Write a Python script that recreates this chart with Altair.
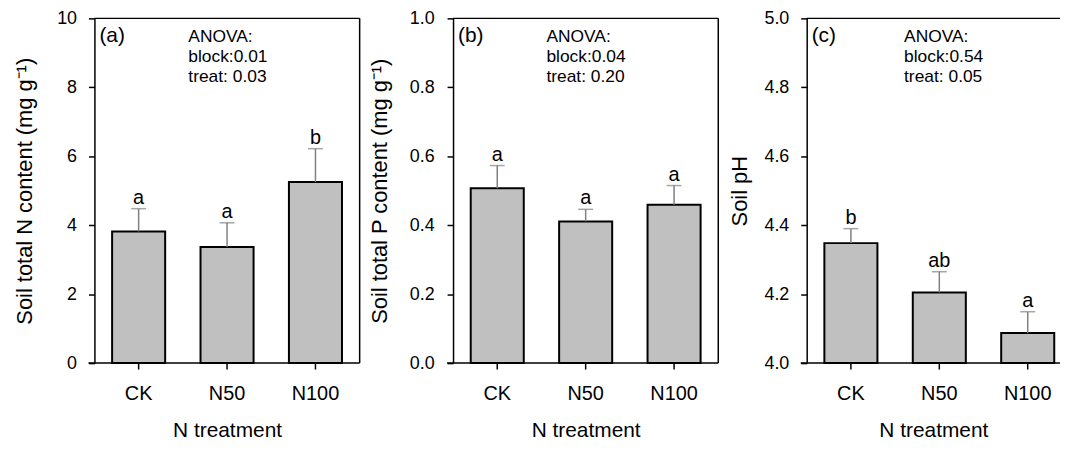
import altair as alt
import pandas as pd

treat = ["CK", "N50", "N100"]

n_mean = [3.82, 3.37, 5.25]
n_se = [0.66, 0.70, 0.97]
n_letters = ["a", "a", "b"]

p_mean = [0.507, 0.411, 0.459]
p_se = [0.066, 0.035, 0.056]
p_letters = ["a", "a", "a"]

ph_mean = [4.348, 4.205, 4.087]
ph_se = [0.042, 0.060, 0.062]
ph_letters = ["b", "ab", "a"]

panel_labels = ["(a)", "(b)", "(c)"]
anova_texts = [
    ["ANOVA:", "block:0.01", "treat: 0.03"],
    ["ANOVA:", "block:0.04", "treat: 0.20"],
    ["ANOVA:", "block:0.54", "treat: 0.05"],
]
y_titles = ["Soil total N content (mg g\u207b\u00b9)", "Soil total P content (mg g\u207b\u00b9)", "Soil pH"]
y_domains = [[0, 10], [0, 1.0], [4.0, 5.0]]
y_ticks = [[0, 2, 4, 6, 8, 10], [0, 0.2, 0.4, 0.6, 0.8, 1.0], [4.0, 4.2, 4.4, 4.6, 4.8, 5.0]]
y_formats = ["d", ".1f", ".1f"]

FONT = "Liberation Sans"
H = 347
BAND_W = 267          # full width of the band layout (3 steps of 89 px)
P_IN, P_OUT = 0.4, 0.2


def x_scale(view_w):
    if view_w >= BAND_W:
        return alt.Scale(domain=treat, range=[0, BAND_W], paddingInner=P_IN, paddingOuter=P_OUT)
    # panel cut at the right edge: keep the same step and left offset
    step = BAND_W / (3 - P_IN + 2 * P_OUT)
    po = (view_w / step - (3 - P_IN)) / 2
    align = (P_OUT * step) / (view_w - step * (3 - P_IN))
    return alt.Scale(domain=treat, paddingInner=P_IN, paddingOuter=po, align=align)


def panel(means, ses, letters, idx, view_w, title_x, label_pad, anova_x, right_frame):
    lo, hi = y_domains[idx]
    df = pd.DataFrame({
        "treat": treat,
        "mean": means,
        "top": [m + s for m, s in zip(means, ses)],
        "base": [lo] * 3,
        "letter": letters,
    })
    xax = alt.Axis(title="N treatment", labelAngle=0, domain=False, tickSize=6,
                   labelPadding=24.5, labelBaseline="middle", labelFontSize=20,
                   titleY=68, titleBaseline="middle", titleFontSize=21)
    xsc = x_scale(view_w)
    ysc = alt.Scale(domain=[lo, hi], nice=False, zero=False)
    yax = alt.Axis(title=y_titles[idx], values=y_ticks[idx], format=y_formats[idx], tickSize=6,
                   labelPadding=label_pad, labelFontSize=18, titleFontSize=22,
                   titleX=title_x, titleY=H / 2, titleBaseline="middle", titleAngle=270)

    def X():
        return alt.X("treat:N", sort=treat, scale=xsc, axis=xax)

    def Y(f):
        return alt.Y(f + ":Q", scale=ysc, axis=yax)

    base = alt.Chart(df)
    bars = base.mark_bar(fill="#c0c0c0", stroke="black", strokeWidth=2).encode(
        x=X(), y=Y("mean"), y2="base")
    err = base.mark_rule(color="#808080", strokeWidth=1.5).encode(
        x=X(), y=Y("mean"), y2="top")
    cap = base.mark_tick(color="#808080", size=15, thickness=1.5).encode(
        x=X(), y=Y("top"))
    lett = base.mark_text(font=FONT, fontSize=20, baseline="alphabetic", dy=-5, color="black").encode(
        x=X(), y=Y("top"), text="letter:N")

    one = alt.Chart(pd.DataFrame({"k": [0]}))
    plabel = one.mark_text(font=FONT, fontSize=21, align="left", baseline="alphabetic",
                           color="black").encode(
        x=alt.value(5), y=alt.value(23.5), text=alt.value(panel_labels[idx]))
    anova = one.mark_text(font=FONT, fontSize=17.5, align="left", baseline="alphabetic",
                          lineHeight=20.3, color="black").encode(
        x=alt.value(anova_x), y=alt.value(23.5), text=alt.value(anova_texts[idx]))
    frame_w = BAND_W if right_frame else view_w
    top_line = one.mark_rule(color="black", strokeWidth=1.5).encode(
        x=alt.value(0), x2=alt.value(frame_w), y=alt.value(0))
    bottom_line = one.mark_rule(color="black", strokeWidth=1.5).encode(
        x=alt.value(-6), x2=alt.value(frame_w), y=alt.value(H))
    layers = [bars, err, cap, lett, plabel, anova, top_line, bottom_line]
    if right_frame:
        layers.append(one.mark_rule(color="black", strokeWidth=1.5).encode(
            x=alt.value(BAND_W), y=alt.value(0), y2=alt.value(H)))
    return alt.layer(*layers).properties(width=view_w, height=H)


pa = panel(n_mean, n_se, n_letters, 0, 281, -70, 12, 94.5, True)
pb = panel(p_mean, p_se, p_letters, 1, 276, -74, 13, 94, True)
pc = panel(ph_mean, ph_se, ph_letters, 2, 255, -68, 12, 98, False)

chart = alt.hconcat(pa, pb, pc, spacing=80, bounds="flush").properties(
    padding={"left": 6, "top": 0, "right": 0, "bottom": 0}
).configure_view(stroke=None).configure_axis(
    labelFont=FONT, titleFont=FONT, labelColor="black", titleColor="black",
    domainColor="black", tickColor="black", domainWidth=1.5, tickWidth=1.5,
    grid=False, titleFontWeight="normal"
)

chart.save("out.html", embed_options={"renderer": "svg", "actions": False})
